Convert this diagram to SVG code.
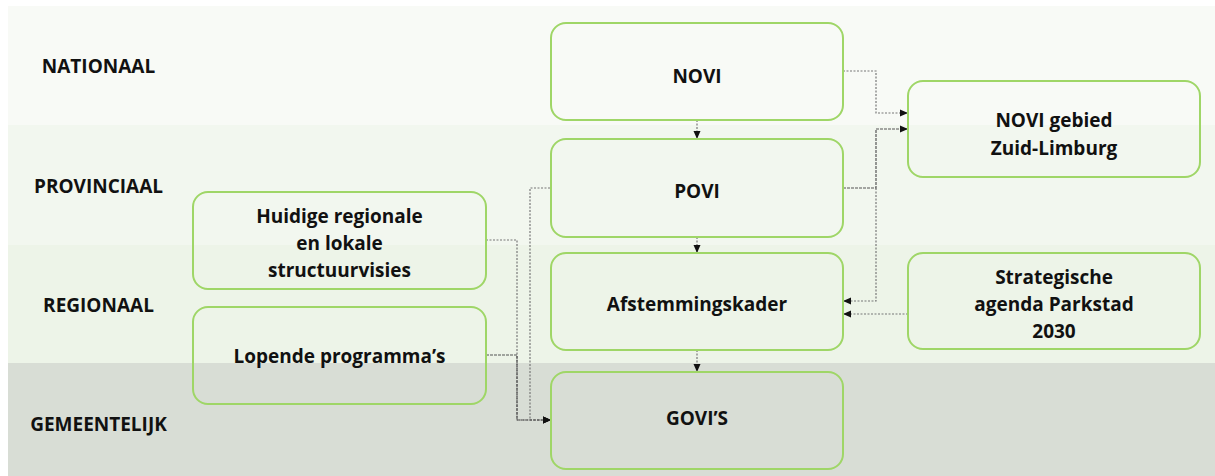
<svg xmlns="http://www.w3.org/2000/svg" width="1215" height="476" viewBox="0 0 1215 476">
<style>
.lvl{font-family:"Open Sans",Lato,"Liberation Sans",sans-serif;font-weight:bold;font-size:19px;fill:#111;text-anchor:middle}
.box{fill:none;stroke:#9fd667;stroke-width:2}
.t{font-family:"Open Sans",Lato,"Liberation Sans",sans-serif;font-weight:bold;font-size:19px;fill:#111;text-anchor:middle}
.c{fill:none;stroke:#777;stroke-width:1.2;stroke-dasharray:2 1.5}
.cd{fill:none;stroke:#555;stroke-width:1.2;stroke-dasharray:3 1}
</style>
<defs>
<marker id="ah" markerWidth="8" markerHeight="8" refX="7" refY="4" orient="auto" markerUnits="userSpaceOnUse">
<path d="M0,0.5 L8,4 L0,7.5 Z" fill="#111"/>
</marker>
</defs>
<rect width="1215" height="476" fill="#ffffff"/>
<g id="bands">
<rect x="8" y="6" width="1207" height="119" fill="#f8faf6"/>
<rect x="8" y="125" width="1207" height="120" fill="#f2f7ef"/>
<rect x="8" y="245" width="1207" height="118" fill="#edf4e8"/>
<rect x="8" y="363" width="1207" height="113" fill="#d8ddd5"/>
</g>
<g id="levels">
<text class="lvl" x="98.5" y="73">NATIONAAL</text>
<text class="lvl" x="98.5" y="193">PROVINCIAAL</text>
<text class="lvl" x="98.5" y="312">REGIONAAL</text>
<text class="lvl" x="98.5" y="431">GEMEENTELIJK</text>
</g>
<g id="connectors">
<path class="c" d="M697,120 V138" marker-end="url(#ah)"/>
<path class="c" d="M697,237 V252" marker-end="url(#ah)"/>
<path class="c" d="M697,350 V371" marker-end="url(#ah)"/>
<path class="c" d="M843,71 H876 V113 H907" marker-end="url(#ah)"/>
<path class="cd" d="M843,188 H876 V129 H907" marker-end="url(#ah)"/>
<path class="c" d="M876,188 V301 H844" marker-end="url(#ah)"/>
<path class="c" d="M908,314 H844" marker-end="url(#ah)"/>
<path class="c" d="M550,188 H530 V420 H550" marker-end="url(#ah)"/>
<path class="c" d="M486,240 H517 V420 H550" marker-end="url(#ah)"/>
<path class="cd" d="M486,355 H517 V420 H550" marker-end="url(#ah)"/>
</g>
<g id="novi">
<rect class="box" x="551" y="23" width="292" height="97" rx="15"/>
<text class="t" x="697" y="83">NOVI</text>
</g>
<g id="povi">
<rect class="box" x="551" y="139" width="292" height="98" rx="15"/>
<text class="t" x="697" y="198">POVI</text>
</g>
<g id="afstemmingskader">
<rect class="box" x="551" y="253" width="292" height="97" rx="15"/>
<text class="t" x="697" y="311">Afstemmingskader</text>
</g>
<g id="govis">
<rect class="box" x="551" y="372" width="292" height="97" rx="15"/>
<text class="t" x="697" y="425">GOVI’S</text>
</g>
<g id="novi-gebied">
<rect class="box" x="908" y="81" width="292" height="96" rx="15"/>
<text class="t" x="1054" y="127">NOVI gebied</text>
<text class="t" x="1054" y="155">Zuid-Limburg</text>
</g>
<g id="strategische">
<rect class="box" x="908" y="253" width="292" height="96" rx="15"/>
<text class="t" x="1054" y="284">Strategische</text>
<text class="t" x="1054" y="311">agenda Parkstad</text>
<text class="t" x="1054" y="338">2030</text>
</g>
<g id="huidige">
<rect class="box" x="193" y="192" width="293" height="97" rx="15"/>
<text class="t" x="339.5" y="223">Huidige regionale</text>
<text class="t" x="339.5" y="250">en lokale</text>
<text class="t" x="339.5" y="277">structuurvisies</text>
</g>
<g id="lopende">
<rect class="box" x="193" y="307" width="293" height="97" rx="15"/>
<text class="t" x="339.5" y="363">Lopende programma’s</text>
</g>
</svg>
